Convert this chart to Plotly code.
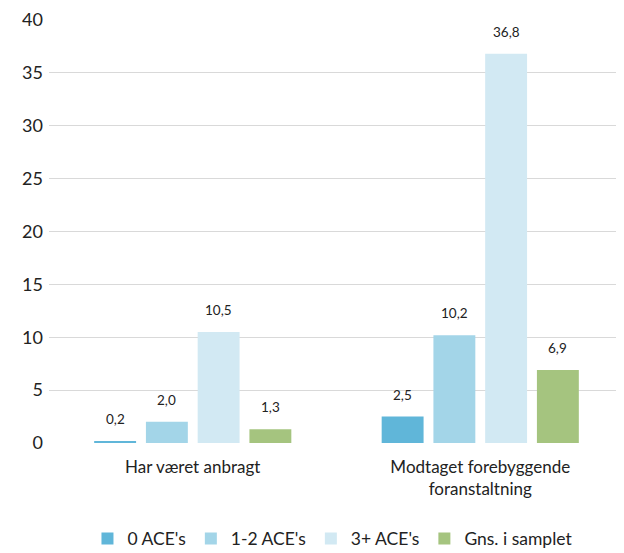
import plotly.graph_objects as go

categories = ["Har været anbragt", "Modtaget forebyggende<br>foranstaltning"]
series_names = ["0 ACE's", "1-2 ACE's", "3+ ACE's", "Gns. i samplet"]
values = [
    [0.2, 2.5],
    [2.0, 10.2],
    [10.5, 36.8],
    [1.3, 6.9],
]
colors = ["#60B6D9", "#A3D5E8", "#D2E9F3", "#A5C47F"]
y_ticks = [0, 5, 10, 15, 20, 25, 30, 35, 40]

FONT = "Lato, Open Sans, sans-serif"
bargap = 0.28
n = len(series_names)

fig = go.Figure()
for name, vals, col in zip(series_names, values, colors):
    fig.add_trace(go.Bar(
        name=name, x=list(range(len(categories))), y=vals,
        marker=dict(color=col, line=dict(width=0)),
        hoverinfo="skip",
    ))

slot = (1 - bargap) / n
for i, vals in enumerate(values):
    for j, v in enumerate(vals):
        fig.add_annotation(
            x=j + (i - (n - 1) / 2) * slot, y=v, xref="x", yref="y",
            text=f"{v:.1f}".replace(".", ","), showarrow=False,
            yanchor="bottom", yshift=12,
            font=dict(family=FONT, size=13.5, color="#222222"),
        )

fig.update_layout(
    width=616, height=545,
    margin=dict(l=41, r=0, t=12, b=110, autoexpand=False),
    paper_bgcolor="white", plot_bgcolor="white",
    barmode="group", bargap=bargap, bargroupgap=0.19,
    font=dict(family=FONT, size=16, color="#222222"),
    showlegend=True,
    legend=dict(orientation="h", x=0.493, xanchor="center", y=-0.226, yanchor="middle",
                font=dict(family=FONT, size=17.5, color="#222222"),
                itemwidth=30, tracegroupgap=0, traceorder="normal"),
    xaxis=dict(tickmode="array", tickvals=list(range(len(categories))), ticktext=categories,
               range=[-0.5, len(categories) - 0.5], showgrid=False, zeroline=False,
               showline=False, ticks="", ticklabelstandoff=12,
               tickfont=dict(family=FONT, size=17, color="#222222")),
    yaxis=dict(range=[0, 40], tickvals=y_ticks, showgrid=True, gridcolor="#D9D9D9",
               gridwidth=1, zeroline=False, showline=False, ticks="",
               tickfont=dict(family=FONT, size=18, color="#222222"), ticklabelstandoff=5),
)

fig.write_html("out.html")
